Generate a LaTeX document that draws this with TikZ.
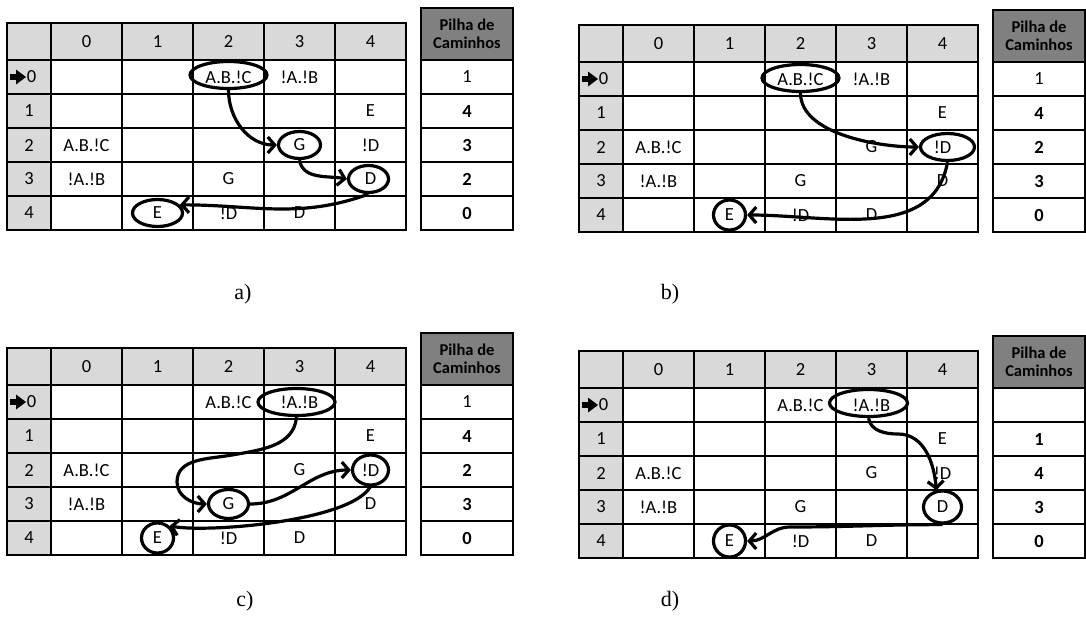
\documentclass[tikz,border=0pt]{standalone}
\usepackage{fontspec}
\setmainfont{Carlito}
\newfontfamily\legenda{Liberation Serif}
\usetikzlibrary{arrows.meta, shapes.geometric, calc}
\definecolor{CinzaCabec}{HTML}{D9D9D9}
\definecolor{CinzaPilha}{HTML}{808080}

\begin{document}
\begin{tikzpicture}[x=1pt, y=-1pt,
  grade/.style={line width=2pt},
  celula/.style={font=\fontsize{18.5}{21}\selectfont, inner sep=0pt},
  marca/.style={ellipse, draw, line width=3.2pt, inner sep=0pt, minimum height=27pt},
  seta/.style={line width=3.2pt, -{Straight Barb[length=7pt, width=16pt]}},
  legenda/.style={font=\legenda\fontsize{22}{26}\selectfont},
]
  \useasboundingbox (0,0) rectangle (1086,624);
  % four snapshots of the same table, only the marks and the stack change
  \foreach \p/\ox/\oy/\pilha in {a/7/23/{1,4,3,2,0}, b/579/25/{1,4,2,3,0},
                                  c/7/348/{1,4,2,3,0}, d/579/351/{{},1,4,3,0}}{
    \begin{scope}[shift={(\ox,\oy)}]
      \fill[CinzaCabec] (0,0) rectangle (399,37) (0,37) rectangle (44,207);
      \draw[grade] (0,0) rectangle (399,207);
      \foreach \r in {0,...,4} \draw[grade] (0,37+34*\r) -- (399,37+34*\r);
      \foreach \c in {0,...,4} \draw[grade] (44+71*\c,0) -- (44+71*\c,207);
      \foreach \c in {0,...,4} \node[celula] (\p-col\c) at (79.5+71*\c,18.5) {\c};
      \foreach \r in {1,...,4} \node[celula] (\p-lin\r) at (22,54+34*\r) {\r};
      \node[celula] (\p-lin0) at (24.5,54) {0};
      \fill (3,51) rectangle (10,57);
      \fill (9,46.5) -- (19,54) -- (9,61.5) -- cycle;
      % cells
      \foreach \r in {0,...,4}
        \foreach \c in {0,...,4}
          \coordinate (\p-\r-\c) at (79.5+71*\c,54+34*\r);
      \foreach \r/\c/\t in {0/2/A.B.!C, 0/3/!A.!B, 1/4/E, 2/0/A.B.!C, 2/3/G, 2/4/!D,
                            3/0/!A.!B, 3/2/G, 3/4/D, 4/1/E, 4/2/!D, 4/3/D}
        \node[celula] (\p-txt-\r-\c) at (\p-\r-\c) {\t};
      % stack of paths
      \fill[CinzaPilha] (414,-15) rectangle (506,37);
      \draw[grade] (414,-15) rectangle (506,207);
      \foreach \r in {0,...,4} \draw[grade] (414,37+34*\r) -- (506,37+34*\r);
      \node[celula, font=\fontsize{16.5}{18.5}\selectfont\bfseries, align=center] (\p-pilha) at (460,11) {Pilha de\\Caminhos};
      \foreach \n [count=\k] in \pilha
        \node[celula] (\p-pilha-\k) at (460,20+34*\k) {\ifnum\k>1 \bfseries\fi\n};
    \end{scope}
  }

  % a)
  \node[marca, minimum width=77pt, yshift=2pt] (a-m1) at (a-0-2) {};
  \node[marca, minimum width=42pt] (a-m2) at (a-2-3) {};
  \node[marca, minimum width=40pt, xshift=-2pt] (a-m3) at (a-3-4) {};
  \node[marca, minimum width=50pt] (a-m4) at (a-4-1) {};
  \draw[seta] (a-m1.south) to[out=-90, in=180] (a-m2.west);
  \draw[seta] (a-m2.south) to[out=-80, in=170] (a-m3.west);
  \draw[seta] (a-m3.south) to[out=-160, in=0] (a-m4.20);

  % b)
  \node[marca, minimum width=77pt, yshift=1pt] (b-m1) at (b-0-2) {};
  \node[marca, minimum width=54pt] (b-m2) at ([xshift=5pt]b-2-4) {};
  \node[marca, minimum width=32pt, minimum height=30pt] (b-m3) at (b-4-1) {};
  \draw[seta] (b-m1.south) to[out=-90, in=180, looseness=0.8] (b-m2.west);
  \draw[seta] (b-m2.south) to[out=-100, in=0] (b-m3.east);

  % c)
  \node[marca, minimum width=77pt, xshift=-3pt] (c-m1) at (c-0-3) {};
  \node[marca, minimum width=40pt, minimum height=29pt] (c-m2) at (c-3-2) {};
  \node[marca, minimum width=36pt, minimum height=30pt] (c-m3) at (c-2-4) {};
  \node[marca, minimum width=32pt, minimum height=30pt] (c-m4) at (c-4-1) {};
  \coordinate (c-v1) at (232,455);
  \coordinate (c-v2) at (177,482);
  \draw[seta] (c-m1.south) to[out=-95, in=10] (c-v1) to[out=190, in=90] (c-v2)
    to[out=-90, in=180] (c-m2.west);
  \draw[seta] (c-m2.east) to[out=0, in=180] (c-m3.west);
  \draw[seta] (c-m3.south) to[out=-120, in=-10, looseness=0.5] (c-m4.45);

  % d)
  \node[marca, minimum width=78pt, xshift=-3pt, yshift=2pt] (d-m1) at (d-0-3) {};
  \node[marca, minimum width=38pt, minimum height=32pt] (d-m2) at (d-3-4) {};
  \node[marca, minimum width=32pt, minimum height=32pt] (d-m3) at (d-4-1) {};
  \coordinate (d-v1) at (898,434);
  \coordinate (d-v2) at (790,527);
  \draw[seta] (d-m1.south) to[out=-80, in=180] (d-v1) to[out=0, in=95] (d-m2.110);
  \draw[seta] (d-m2.south) to[out=180, in=0] (d-v2) to[out=180, in=0] (d-m3.east);

  % captions
  \node[legenda] (leg-a) at (243,294) {a)};
  \node[legenda] (leg-b) at (670,294) {b)};
  \node[legenda] (leg-c) at (245,601) {c)};
  \node[legenda] (leg-d) at (670,601) {d)};
\end{tikzpicture}
\end{document}
